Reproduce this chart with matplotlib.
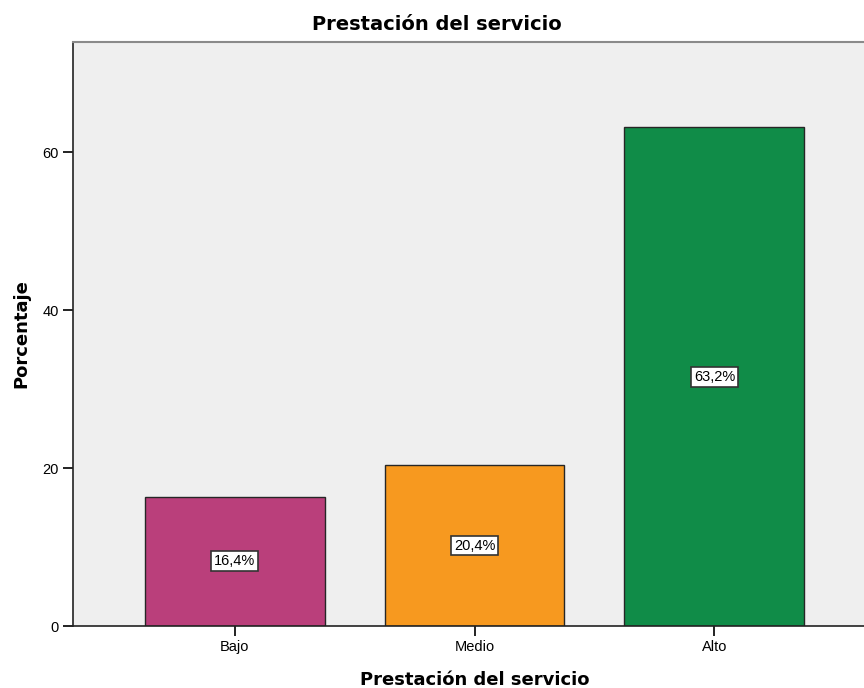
import matplotlib
matplotlib.use("Agg")
import matplotlib.pyplot as plt
import numpy as np

categories = ["Bajo", "Medio", "Alto"]
percentages = [16.4, 20.4, 63.2]
bar_colors = ["#BA3F7B", "#F7991F", "#108C48"]
y_ticks = [0, 20, 40, 60]

W, H, DPI = 864, 688, 100
fig = plt.figure(figsize=(W / DPI, H / DPI), dpi=DPI)
# plot area runs slightly past the right edge of the canvas
left, right, top, bottom = 73, 876, 42, 626
ax = fig.add_axes([left / W, 1 - bottom / H, (right - left) / W, (bottom - top) / H])
ax.set_facecolor("#EFEFEF")

x = np.arange(len(categories))
ax.bar(x, percentages, width=0.75, color=bar_colors, edgecolor="#262626",
       linewidth=1.0, zorder=2)
for xi, v in zip(x, percentages):
    ax.text(xi, v / 2, f"{v:.1f}%".replace(".", ","), ha="center", va="center",
            fontsize=10.5, family="Liberation Sans", zorder=3,
            bbox=dict(boxstyle="square,pad=0.2", fc="white", ec="#333333", lw=1.2))

ax.set_xlim(-0.673, 2.673)
ax.set_ylim(0, 74)
ax.set_xticks(x)
ax.set_xticklabels(categories, family="Liberation Sans", fontsize=10.5)
ax.set_yticks(y_ticks)
ax.set_yticklabels([str(t) for t in y_ticks], family="Liberation Sans", fontsize=10.5)
ax.tick_params(direction="out", length=7, width=1.4, color="#222222", pad=3)

for side in ("left", "bottom"):
    ax.spines[side].set_color("#222222")
    ax.spines[side].set_linewidth(1.2)
ax.spines["top"].set_color("#8A8A8A")
ax.spines["top"].set_linewidth(1.5)
ax.spines["right"].set_visible(False)

ax.set_xlabel("Prestación del servicio", fontsize=13, fontweight="bold", labelpad=12)
ax.set_ylabel("Porcentaje", fontsize=13, fontweight="bold", labelpad=9)
fig.suptitle("Prestación del servicio", x=437 / W, y=1 - 15 / H, va="top",
             fontsize=14, fontweight="bold")

fig.savefig("out.png", dpi=DPI)
